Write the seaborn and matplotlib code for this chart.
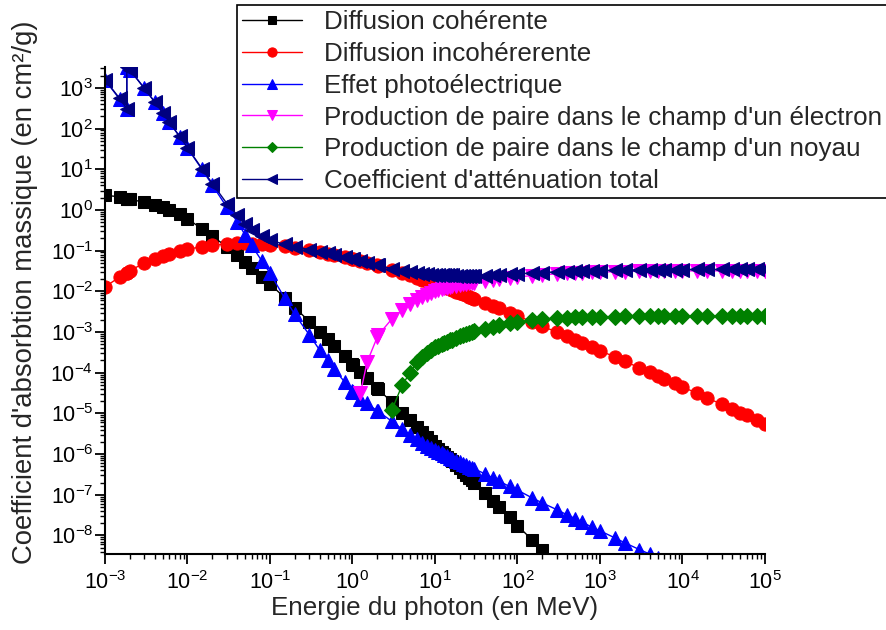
import matplotlib
matplotlib.use('Agg')
import numpy as np
import pandas as pd
import seaborn as sns
import matplotlib.pyplot as plt
from matplotlib.ticker import LogLocator, NullFormatter, LogFormatterSciNotation

# photon energy grid (MeV), K edge listed twice
energy = [1e-3, 1.5e-3, 1.839e-3, 1.839e-3, 2e-3, 3e-3, 4e-3, 5e-3, 6e-3, 8e-3,
          1e-2, 1.5e-2, 2e-2, 3e-2, 4e-2, 5e-2, 6e-2, 8e-2,
          0.1, 0.15, 0.2, 0.3, 0.4, 0.5, 0.6, 0.8,
          1.0, 1.022, 1.25, 1.5, 2.0, 2.044, 3, 4, 5, 6, 7, 8, 9,
          10, 11, 12, 13, 14, 15, 16, 18, 20, 22, 24, 26, 28, 30, 40, 50, 60, 80,
          100, 150, 200, 300, 400, 500, 600, 800,
          1e3, 1.5e3, 2e3, 3e3, 4e3, 5e3, 6e3, 8e3,
          1e4, 1.5e4, 2e4, 3e4, 4e4, 5e4, 6e4, 8e4, 1e5]

# coherent scattering (first 61 energies)
coherent = [2.3, 2.1, 1.9, 1.9, 1.82, 1.55, 1.33, 1.17, 1.0, 0.78,
            0.61, 0.34, 0.225, 0.125, 0.077, 0.053, 0.038, 0.023,
            0.0152, 0.0070, 0.0040, 0.0018, 0.00102, 6.6e-4, 4.6e-4, 2.6e-4,
            1.66e-4, 1.59e-4, 1.07e-4, 7.4e-5, 4.2e-5, 4.0e-5, 1.86e-5, 1.05e-5, 6.7e-6, 4.7e-6, 3.4e-6, 2.6e-6, 2.07e-6,
            1.6e-6, 1.36e-6, 1.15e-6, 9.8e-7, 8.5e-7, 7.6e-7, 6.8e-7, 5.5e-7, 4.6e-7, 3.7e-7, 3.1e-7, 2.65e-7, 2.25e-7, 1.95e-7, 1.1e-7, 7.0e-8, 4.9e-8, 2.8e-8,
            1.75e-8, 7.8e-9, 4.4e-9, 1.95e-9]

# incoherent scattering (all energies)
incoherent = [0.0128, 0.0225, 0.029, 0.029, 0.032, 0.050, 0.063, 0.073, 0.082, 0.097,
              0.108, 0.125, 0.135, 0.146, 0.150, 0.150, 0.149, 0.145,
              0.140, 0.128, 0.118, 0.103, 0.0925, 0.0845, 0.0782, 0.0688,
              0.0619, 0.0613, 0.0555, 0.0505, 0.0432, 0.0427, 0.0340, 0.0284, 0.0245, 0.0217, 0.0195, 0.0177, 0.0163,
              0.0151, 0.0141, 0.0132, 0.0125, 0.0118, 0.0113, 0.0107, 0.0098, 0.0091, 0.0084, 0.0079, 0.0074, 0.0070, 0.0066, 0.0053, 0.0044, 0.0038, 0.0030,
              0.0025, 0.00178, 0.00139, 9.9e-4, 7.8e-4, 6.4e-4, 5.5e-4, 4.3e-4,
              3.5e-4, 2.45e-4, 1.9e-4, 1.32e-4, 1.02e-4, 8.4e-5, 7.1e-5, 5.5e-5,
              4.5e-5, 3.1e-5, 2.4e-5, 1.66e-5, 1.28e-5, 1.05e-5, 8.9e-6, 6.8e-6, 5.5e-6]

# photoelectric effect (first 72 energies)
photo = [1567, 533, 307, 3190, 2775, 977, 451, 244, 146, 63.8,
         33.2, 9.88, 4.10, 1.165, 0.52, 0.24, 0.134, 0.055,
         0.028, 0.0069, 0.0027, 8.5e-4, 3.6e-4, 2.05e-4, 1.2e-4, 6.0e-5,
         3.5e-5, 3.35e-5, 2.2e-5, 1.75e-5, 1.15e-5, 1.12e-5, 6.4e-6, 4.1e-6, 2.9e-6, 2.3e-6, 1.9e-6, 1.62e-6, 1.42e-6,
         1.27e-6, 1.15e-6, 1.05e-6, 9.5e-7, 8.8e-7, 8.2e-7, 7.7e-7, 6.9e-7, 6.3e-7, 5.8e-7, 5.3e-7, 4.9e-7, 4.6e-7, 4.3e-7, 3.3e-7, 2.6e-7, 2.15e-7, 1.6e-7,
         1.3e-7, 8.4e-8, 6.3e-8, 4.3e-8, 3.2e-8, 2.6e-8, 2.15e-8, 1.6e-8,
         1.3e-8, 8.8e-9, 6.6e-9, 4.5e-9, 3.5e-9, 2.8e-9, 2.3e-9]

# pair production, electron field label (from 1.25 MeV)
pair_electron = [3.2e-5, 1.8e-4, 7.6e-4, 8.3e-4, 2.1e-3, 3.5e-3, 4.9e-3, 6.1e-3, 7.2e-3, 8.2e-3, 9.1e-3,
                 9.9e-3, 0.0106, 0.0112, 0.0118, 0.0123, 0.0128, 0.0132, 0.0139, 0.0145, 0.0149, 0.0153, 0.0156, 0.0158, 0.0160, 0.0177, 0.0190, 0.0200, 0.0215,
                 0.0226, 0.0243, 0.0255, 0.0268, 0.0277, 0.0283, 0.0287, 0.0293,
                 0.0297, 0.0303, 0.0307, 0.0311, 0.0313, 0.0314, 0.0315, 0.0316,
                 0.0317, 0.0318, 0.0318, 0.0319, 0.0319, 0.0319, 0.0319, 0.0320, 0.0320]

# pair production, nucleus field label (from 3 MeV)
pair_nucleus = [1.2e-5, 5.0e-5, 1.0e-4, 1.8e-4, 2.45e-4, 3.1e-4, 3.7e-4,
                4.2e-4, 4.6e-4, 5.0e-4, 5.4e-4, 5.8e-4, 6.2e-4, 6.5e-4, 7.2e-4, 7.9e-4, 8.5e-4, 9.0e-4, 9.5e-4, 1.0e-3, 1.04e-3, 1.2e-3, 1.35e-3, 1.47e-3, 1.65e-3,
                1.78e-3, 1.97e-3, 2.08e-3, 2.2e-3, 2.26e-3, 2.3e-3, 2.32e-3, 2.35e-3,
                2.37e-3, 2.4e-3, 2.42e-3, 2.44e-3, 2.45e-3, 2.46e-3, 2.46e-3, 2.47e-3,
                2.47e-3, 2.48e-3, 2.48e-3, 2.48e-3, 2.49e-3, 2.49e-3, 2.49e-3, 2.49e-3, 2.5e-3]

# total attenuation (all energies)
total = [1580, 555, 309, 3192, 2777, 978, 452, 245, 147, 64.6,
         33.9, 10.3, 4.46, 1.44, 0.75, 0.444, 0.321, 0.223,
         0.183, 0.142, 0.125, 0.106, 0.0939, 0.0853, 0.0788, 0.0692,
         0.0621, 0.0615, 0.0557, 0.0508, 0.0440, 0.0436, 0.0361, 0.0320, 0.0295, 0.0280, 0.0270, 0.0262, 0.0258,
         0.0254, 0.0252, 0.0249, 0.0248, 0.0247, 0.0247, 0.0246, 0.0244, 0.0244, 0.0242, 0.0241, 0.0240, 0.0238, 0.0237, 0.0242, 0.0248, 0.0253, 0.0262,
         0.0269, 0.0281, 0.0290, 0.0300, 0.0307, 0.0312, 0.0316, 0.0321,
         0.0324, 0.0329, 0.0333, 0.0337, 0.0339, 0.0340, 0.0341, 0.0342,
         0.0343, 0.0344, 0.0344, 0.0345, 0.0345, 0.0345, 0.0345, 0.0346, 0.0346]

labels = ["Diffusion cohérente", "Diffusion incohérerente", "Effet photoélectrique",
          "Production de paire dans le champ d'un électron",
          "Production de paire dans le champ d'un noyau",
          "Coefficient d'atténuation total"]

sns.set_style('ticks')
plt.rcParams['font.family'] = ['Liberation Sans', 'DejaVu Sans']
plt.rcParams['mathtext.fontset'] = 'custom'
plt.rcParams['mathtext.rm'] = 'Liberation Sans'
plt.rcParams['mathtext.it'] = 'Liberation Sans:italic'

fig = plt.figure(figsize=(8.87, 6.30), dpi=100)
ax = fig.add_axes([105 / 887, 76 / 630, 660 / 887, 487 / 630])
ax.set_xscale('log')
ax.set_yscale('log')

series = [
    (energy[:len(coherent)], coherent, 'black', 's', 8.5),
    (energy, incoherent, 'red', 'o', 9.5),
    (energy[:len(photo)], photo, 'blue', '^', 10),
    (energy[28:], pair_electron, 'magenta', 'v', 10),
    (energy[32:], pair_nucleus, 'green', 'D', 8),
    (energy, total, 'navy', '<', 10),
]
for (x, y, col, mk, ms), lab in zip(series, labels):
    df = pd.DataFrame({'E': x, 'mu': y})
    sns.lineplot(data=df, x='E', y='mu', ax=ax, estimator=None, sort=False,
                 color=col, marker=mk, markersize=ms, markeredgecolor=col,
                 markerfacecolor=col, linewidth=1, label=lab, legend=False)

ax.set_xlim(1e-3, 1e5)
ax.set_ylim(3.5e-9, 3260)

ax.xaxis.set_major_locator(LogLocator(base=10, numticks=20))
ax.xaxis.set_minor_locator(LogLocator(base=10, subs=np.arange(2, 10), numticks=200))
ax.yaxis.set_major_locator(LogLocator(base=10, numticks=30))
ax.yaxis.set_minor_locator(LogLocator(base=10, subs=np.arange(2, 10), numticks=300))
ax.xaxis.set_major_formatter(LogFormatterSciNotation())
ax.yaxis.set_major_formatter(LogFormatterSciNotation())
ax.xaxis.set_minor_formatter(NullFormatter())
ax.yaxis.set_minor_formatter(NullFormatter())

for side in ['top', 'right']:
    ax.spines[side].set_visible(False)
for side in ['left', 'bottom']:
    ax.spines[side].set_linewidth(1.5)
    ax.spines[side].set_color('black')
ax.tick_params(which='major', direction='out', length=7, width=1.3, labelsize=15.5, colors='black')
ax.tick_params(which='minor', direction='out', length=3.6, width=1.0, colors='black')
ax.tick_params(axis='x', which='major', pad=5)
ax.tick_params(axis='y', which='major', pad=1.5)

ax.set_xlabel("Energie du photon (en MeV)", fontsize=18.7)
ax.set_ylabel("Coefficient d'absorbtion massique (en cm²/g)", fontsize=19.8)
ax.xaxis.set_label_coords(0.5, -0.086)
ax.yaxis.set_label_coords(-0.102, 0.537)

handles, labs = ax.get_legend_handles_labels()
leg = fig.legend(handles, labs, loc='upper left', bbox_to_anchor=(237 / 887, 1 - 5 / 630),
                 borderaxespad=0, fontsize=18.7, frameon=True, fancybox=False,
                 edgecolor='black', framealpha=1, markerscale=0.7,
                 handlelength=2.3, handletextpad=0.85, labelspacing=0.3, borderpad=0.2)
leg.get_frame().set_linewidth(1.2)

fig.savefig('out.png', dpi=100)
